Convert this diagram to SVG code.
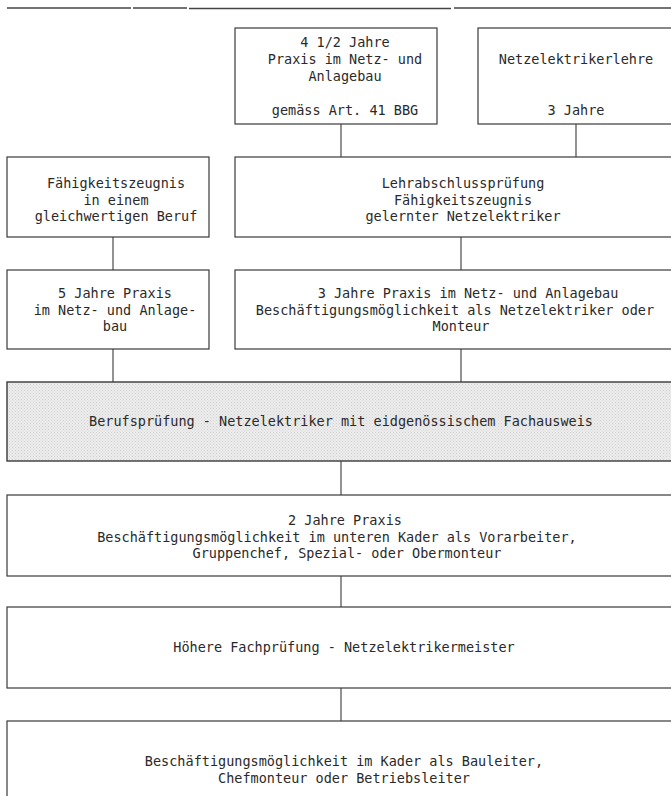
<svg xmlns="http://www.w3.org/2000/svg" width="671" height="796" viewBox="0 0 671 796">
<style>
.box{fill:#ffffff;stroke:#3a3a3a;stroke-width:1.2}
.shade{fill:url(#screen);stroke:#3a3a3a;stroke-width:1.4}
.conn{stroke:#3a3a3a;stroke-width:1.1;fill:none}
.rule{stroke:#444;stroke-width:1.6;fill:none}
text{font-family:"DejaVu Sans Mono","Liberation Mono",monospace;font-size:13.5px;fill:#2a2a2a;text-anchor:middle}
</style>
<defs>
<pattern id="screen" width="3" height="3" patternUnits="userSpaceOnUse">
<rect width="3" height="3" fill="#ececec"/>
<rect x="0" y="0" width="1" height="1" fill="#d2d2d2"/>
<rect x="1.5" y="1.5" width="1" height="1" fill="#dadada"/>
</pattern>
</defs>
<g id="toprule">
<line class="rule" x1="7" y1="8" x2="131" y2="8"/>
<line class="rule" x1="133" y1="8" x2="187" y2="8"/>
<line class="rule" x1="189" y1="8.5" x2="451" y2="8.5"/>
<line class="rule" x1="454" y1="8" x2="671" y2="8"/>
</g>
<g id="connectors">
<line class="conn" x1="341" y1="124" x2="341" y2="157"/>
<line class="conn" x1="576" y1="124" x2="576" y2="157"/>
<line class="conn" x1="113" y1="237" x2="113" y2="270"/>
<line class="conn" x1="461" y1="237" x2="461" y2="270"/>
<line class="conn" x1="113" y1="349" x2="113" y2="382"/>
<line class="conn" x1="461" y1="349" x2="461" y2="382"/>
<line class="conn" x1="341" y1="461" x2="341" y2="495"/>
<line class="conn" x1="341" y1="576" x2="341" y2="607"/>
<line class="conn" x1="341" y1="688" x2="341" y2="721"/>
</g>
<g id="praxis-45">
<rect class="box" x="235" y="28" width="202" height="96"/>
<text x="345" y="47">4 1/2 Jahre</text>
<text x="345" y="64">Praxis im Netz- und</text>
<text x="345" y="81">Anlagebau</text>
<text x="345" y="115">gemäss Art. 41 BBG</text>
</g>
<g id="lehre">
<rect class="box" x="478" y="28" width="210" height="96"/>
<text x="576" y="64">Netzelektrikerlehre</text>
<text x="576" y="115">3 Jahre</text>
</g>
<g id="faehigkeitszeugnis-gleichwertig">
<rect class="box" x="7" y="157" width="202" height="80"/>
<text x="116" y="188">Fähigkeitszeugnis</text>
<text x="116" y="204.5">in einem</text>
<text x="116" y="221">gleichwertigen Beruf</text>
</g>
<g id="lehrabschluss">
<rect class="box" x="235" y="157" width="450" height="80"/>
<text x="463" y="188">Lehrabschlussprüfung</text>
<text x="463" y="204.5">Fähigkeitszeugnis</text>
<text x="463" y="221">gelernter Netzelektriker</text>
</g>
<g id="praxis-5">
<rect class="box" x="7" y="270" width="202" height="79"/>
<text x="115" y="298">5 Jahre Praxis</text>
<text x="115" y="314.5">im Netz- und Anlage-</text>
<text x="115" y="331">bau</text>
</g>
<g id="praxis-3">
<rect class="box" x="235" y="270" width="450" height="79"/>
<text x="468" y="298">3 Jahre Praxis im Netz- und Anlagebau</text>
<text x="455" y="314.5">Beschäftigungsmöglichkeit als Netzelektriker oder</text>
<text x="461" y="331">Monteur</text>
</g>
<g id="berufspruefung">
<rect class="shade" x="7" y="382" width="678" height="79"/>
<text x="341" y="426">Berufsprüfung - Netzelektriker mit eidgenössischem Fachausweis</text>
</g>
<g id="praxis-2">
<rect class="box" x="7" y="495" width="678" height="81"/>
<text x="345" y="525">2 Jahre Praxis</text>
<text x="337" y="541.5">Beschäftigungsmöglichkeit im unteren Kader als Vorarbeiter,</text>
<text x="347" y="558">Gruppenchef, Spezial- oder Obermonteur</text>
</g>
<g id="meister">
<rect class="box" x="7" y="607" width="678" height="81"/>
<text x="344" y="652">Höhere Fachprüfung - Netzelektrikermeister</text>
</g>
<g id="kader">
<rect class="box" x="7" y="721" width="678" height="90"/>
<text x="344" y="766">Beschäftigungsmöglichkeit im Kader als Bauleiter,</text>
<text x="344" y="782.5">Chefmonteur oder Betriebsleiter</text>
</g>
</svg>
